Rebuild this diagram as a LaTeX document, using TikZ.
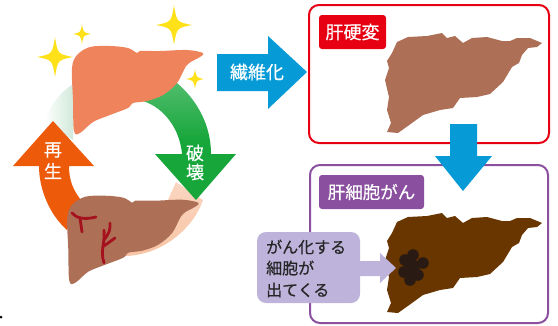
\documentclass[tikz,border=0pt]{standalone}
\usepackage{fontspec}
\setmainfont{Noto Sans CJK JP}[FakeBold=0.4]
\usetikzlibrary{positioning}

\definecolor{liverpink}{HTML}{EF845C}
\definecolor{liverbrown}{HTML}{AD7056}
\definecolor{liverdark}{HTML}{693600}
\definecolor{cellblack}{HTML}{2A1A14}
\definecolor{arrowgreen}{HTML}{16A63A}
\definecolor{arroworange}{HTML}{EC5A0A}
\definecolor{arrowblue}{HTML}{069BD7}
\definecolor{boxred}{HTML}{E60012}
\definecolor{boxpurple}{HTML}{8A4F9E}
\definecolor{calloutlav}{HTML}{BDB3DB}
\definecolor{staryellow}{HTML}{FFE11A}
\definecolor{veinred}{HTML}{A5121E}
\definecolor{palegreen}{HTML}{CFE8D8}
\definecolor{paleorange}{HTML}{F8C4A5}

\tikzset{
  panel/.style={draw, line width=2pt, rounded corners=10pt},
  tagbox/.style={rounded corners=3pt, text=white, anchor=center, inner sep=0pt},
  whitelabel/.style={text=white, font=\fontsize{18}{18}\selectfont, inner sep=0pt},
  blacklabel/.style={text=black!85, font=\fontsize{16}{16}\selectfont, inner sep=0pt, anchor=west},
  vein/.style={veinred, line width=2.8pt, line cap=round},
}

% smooth liver, used twice in the cycle
\newcommand{\smoothliver}{plot[smooth cycle, tension=.55] coordinates {
  (72,68) (77,55) (90,47) (110,46) (128,48) (137,53) (140,51) (160,51)
  (187,50) (203,53) (200,57) (187,65) (177,83) (163,95) (147,101) (133,103)
  (128,108) (110,115) (93,122) (80,133) (74,131) (73,100)}}
% scarred liver, used in both panels
\newcommand{\roughliver}{(397,42) -- (408,37) -- (427,36) -- (442,33) -- (447,38) -- (455,36) -- (463,43)
  -- (472,38) -- (487,37) -- (502,41) -- (510,41) -- (517,38) -- (530,38) -- (542,43) -- (537,47)
  -- (528,48) -- (522,55) -- (519,63) -- (512,67) -- (503,82) -- (490,94) -- (477,97) -- (460,98)
  -- (453,108) -- (440,110) -- (423,115) -- (412,123) -- (398,133) -- (387,132) -- (391,123)
  -- (387,110) -- (389,97) -- (385,80) -- (389,68) -- (387,61) -- (392,53) -- cycle}

\begin{document}
\begin{tikzpicture}[x=1pt, y=-1pt]
\useasboundingbox (0,0) rectangle (558,325);

% pale parts of the ring
\shade[left color=white, right color=palegreen] (75,83) .. controls (60,92) and (50,105) .. (44,122) -- (73,140) -- cycle;
\shade[top color=paleorange!70!white, bottom color=paleorange] (176,182) -- (203,200) .. controls (195,225) and (165,255) .. (125,256) -- (125,240) -- (168,200) -- cycle;

% destroy and regenerate arrows
\shade[top color=arrowgreen!75!white, bottom color=arrowgreen, middle color=arrowgreen] (177,83) .. controls (197,100) and (211,125) .. (211,154) -- (236,154) -- (196,200) -- (155,154) -- (182,154) .. controls (180,130) and (165,108) .. (143,101) -- cycle;
\fill[arroworange] (53,121) -- (94,166) -- (69,166) .. controls (69,180) and (73,190) .. (81,200) -- (67,230) .. controls (50,215) and (39,190) .. (39,166) -- (13,166) -- cycle;

% livers of the cycle
\fill[liverpink] \smoothliver;
\begin{scope}[xshift=-4.7pt, yshift=-149.7pt]
\fill[liverbrown] \smoothliver;
\end{scope}
\draw[vein] (72,213) .. controls (76,218) and (84,220) .. (96,217);
\draw[vein] (80,218) -- (82,232);
\draw[vein] (104,263) .. controls (100,250) and (105,245) .. (104,230);
\draw[vein] (104,240) .. controls (110,232) and (110,230) .. (110,223);
\draw[vein] (104,246) -- (115,238);

% sparkles
\foreach \sx/\sy/\sr/\st in {55/57/18/20, 82/34/9/10, 174/25/18/20, 195/79/9/10}
  \fill[staryellow] (\sx-\sr,\sy) .. controls (\sx-.15*\sr,\sy-.15*\st) .. (\sx,\sy-\st)
    .. controls (\sx+.15*\sr,\sy-.15*\st) .. (\sx+\sr,\sy)
    .. controls (\sx+.15*\sr,\sy+.15*\st) .. (\sx,\sy+\st)
    .. controls (\sx-.15*\sr,\sy+.15*\st) .. cycle;

\node[whitelabel] (regen1) at (53,150) {再};
\node[whitelabel] (regen2) at (53,171) {生};
\node[whitelabel] (destroy1) at (195,153) {破};
\node[whitelabel] (destroy2) at (195,172) {壊};

% panels
\draw[panel, boxred, fill=white] (309,5) rectangle (549,143);
\draw[panel, boxpurple, fill=white] (310,165) rectangle (548,323);
\node[tagbox, fill=boxred, minimum width=67pt, minimum height=34pt, font=\fontsize{18}{18}\selectfont] (cirrhosis) at (352.5,32) {肝硬変};
\node[tagbox, fill=boxpurple, minimum width=105pt, minimum height=34pt, font=\fontsize{17.5}{17.5}\selectfont] (cancer) at (371.5,192) {肝細胞がん};
\fill[liverbrown] \roughliver;
\begin{scope}[yshift=-180pt]
\fill[liverdark] \roughliver;
\end{scope}

% tumour cells
\foreach \cx/\cy in {413/255, 423/263, 418/275, 410/280, 404/272, 405/260}
  \fill[cellblack] (\cx,\cy) circle (5.8);
\fill[cellblack] (412,267) circle (8);

% blue arrows
\fill[arrowblue] (217,54) -- (268,54) -- (268,36) -- (307,72) -- (268,109) -- (268,91) -- (217,91) -- cycle;
\node[whitelabel] (fibrosis) at (257,72) {繊維化};
\fill[arrowblue] (450,124) -- (477,124) -- (477,156) -- (492,156) -- (463,191) -- (435,156) -- (450,156) -- cycle;

% callout
\fill[calloutlav] (340,261) -- (380,261) -- (380,253) -- (396,268) -- (380,283) -- (380,276) -- (340,276) -- cycle;
\fill[calloutlav, rounded corners=9pt] (257,232) rectangle (360,303);
\node[blacklabel] (line1) at (266,247) {がん化する};
\node[blacklabel] (line2) at (266,268) {細胞が};
\node[blacklabel] (line3) at (266,290) {出てくる};

\fill[black] (1,317) circle (1.5);
\end{tikzpicture}
\end{document}
